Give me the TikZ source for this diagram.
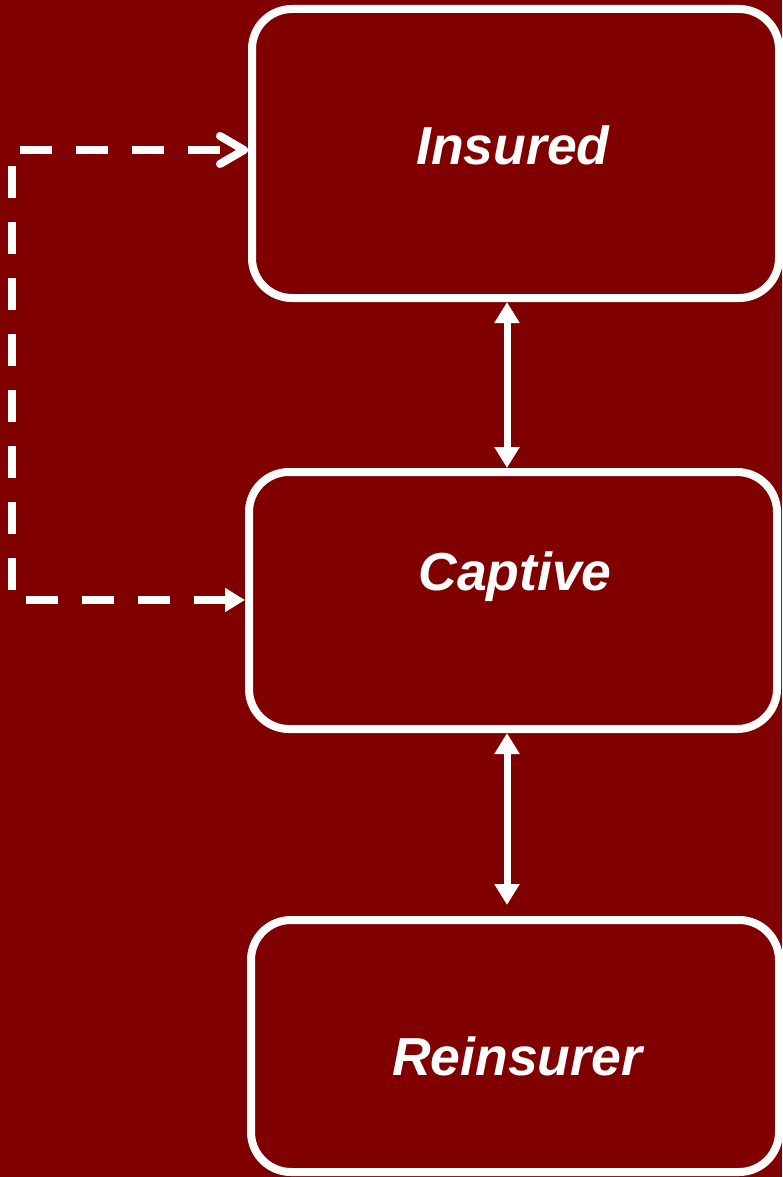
\documentclass[tikz,border=0pt]{standalone}
\usepackage{fontspec}
\setmainfont{Liberation Sans}
\usetikzlibrary{arrows.meta}
\definecolor{bgred}{RGB}{128,0,0}
\tikzset{
  box/.style={draw=white, line width=8pt, fill=bgred, rounded corners=40pt,
    rectangle, inner sep=0pt},
  lbl/.style={text=white, anchor=base, inner sep=0pt,
    font=\fontsize{53.5}{60}\selectfont\bfseries\itshape},
  dbl/.style={white, line width=7pt,
    {Triangle[length=21pt,width=24pt]}-{Triangle[length=21pt,width=24pt]}},
  dashline/.style={white, line width=8pt, dash pattern=on 32pt off 24pt,
    {Triangle[length=20pt,width=23pt]}-{Straight Barb[length=24pt,width=28pt,line cap=round,line join=round]}}
}
\begin{document}
\begin{tikzpicture}[x=1pt,y=-1pt]
\fill[bgred] (0,0) rectangle (782,1177);
\useasboundingbox (0,0) rectangle (782,1177);
\node[box, minimum width=527pt, minimum height=289pt] (insured) at (515.5,153.5) {};
\node[box, minimum width=528pt, minimum height=257pt] (captive) at (513,600.5) {};
\node[box, minimum width=528pt, minimum height=252pt] (reins) at (515,1046) {};
\node[lbl] (tins) at (513,165) {Insured};
\node[lbl] (tcap) at (515,590) {Captive};
\node[lbl] (trei) at (517,1075) {Reinsurer};
\coordinate (ax) at (507,0);
\coordinate (aend) at (507,905);
\coordinate (cA) at (12,600);
\coordinate (cB) at (12,150);
\draw[dbl] (insured.south -| ax) -- (captive.north -| ax);
\draw[dbl] (captive.south -| ax) -- (aend);
\draw[dashline] (captive.west |- cA) -- (cA) -- (cB) -- (insured.west |- cB);
\end{tikzpicture}
\end{document}
